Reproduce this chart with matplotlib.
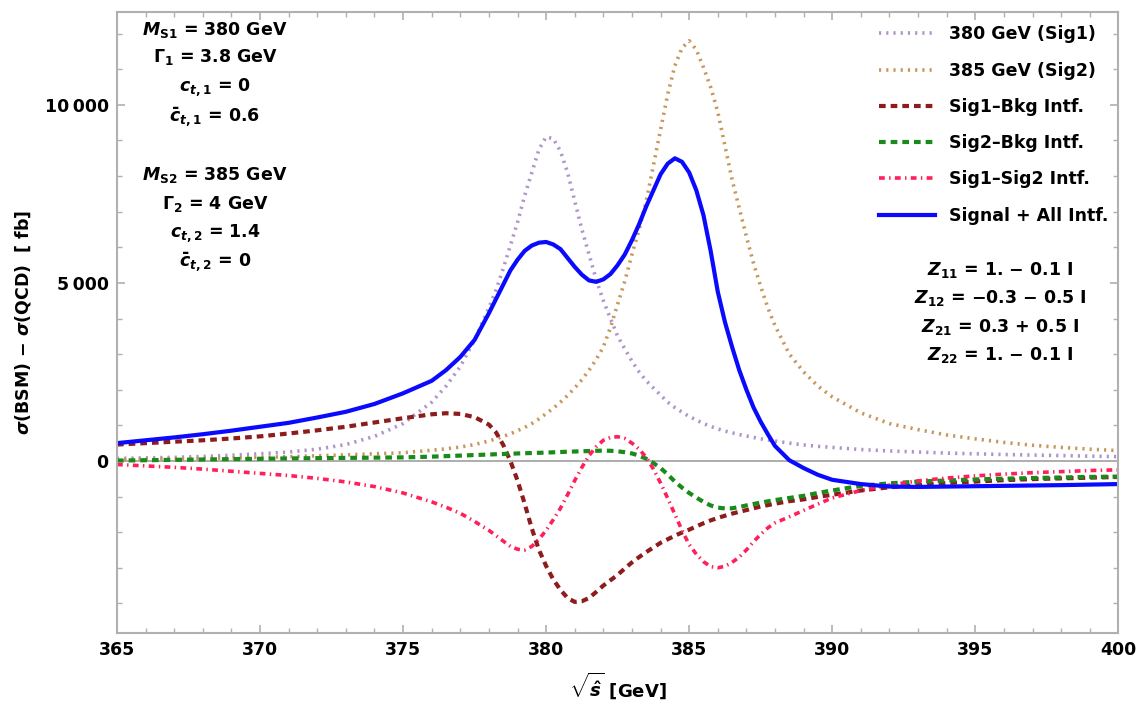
import matplotlib
matplotlib.use("Agg")
import matplotlib.pyplot as plt
import matplotlib.ticker as ticker

# ── Data ─────────────────────────────────────────────────────────────────────
sqrt_s = [365, 366, 367, 368, 369, 370, 371, 372, 373, 374, 375, 376, 376.5, 377, 377.5,
          378, 378.25, 378.5, 378.75, 379, 379.25, 379.5, 379.75, 380, 380.25,
          380.5, 380.75, 381, 381.25, 381.5, 381.75, 382, 382.25, 382.5, 382.75,
          383, 383.25, 383.5, 383.75, 384, 384.25, 384.5, 384.75, 385, 385.25,
          385.5, 385.75, 386, 386.25, 386.5, 386.75, 387, 387.25, 387.5, 387.75, 388,
          388.5, 389, 389.5, 390, 391, 392, 393, 394, 395, 396, 397, 398, 399, 400]

sig1 = [70, 85, 100, 125, 160, 200, 250, 330, 460, 690, 1050, 1650, 2100, 2650, 3400,
        4300, 4800, 5400, 6050, 6700, 7450, 8100, 8750, 9100, 9050,
        8700, 8100, 7300, 6500, 5800, 5100, 4500, 4000, 3500, 3150,
        2800, 2500, 2250, 2050, 1850, 1650, 1500, 1370, 1250, 1150,
        1050, 970, 900, 840, 790, 740, 700, 660, 620, 590, 560,
        500, 450, 410, 380, 320, 280, 250, 220, 200, 180, 165, 150, 135, 120]

sig2 = [40, 50, 60, 70, 85, 100, 120, 145, 170, 200, 230, 300, 340, 390, 460,
        560, 620, 690, 760, 850, 940, 1050, 1180, 1330, 1480,
        1650, 1840, 2050, 2280, 2550, 2850, 3200, 3750, 4400, 5050,
        5800, 6500, 7300, 8300, 9300, 10300, 11100, 11600, 11800, 11550,
        11050, 10500, 9800, 8850, 7900, 7100, 6300, 5550, 4900, 4300, 3800,
        3000, 2500, 2100, 1800, 1350, 1050, 880, 730, 620, 520, 440, 380, 330, 290]

sig1_bkg = [460, 500, 540, 580, 630, 690, 770, 860, 960, 1080, 1200, 1310, 1340, 1320, 1230,
            1020, 800, 450, 0, -550, -1200, -1900, -2500, -2950, -3330,
            -3620, -3850, -3960, -3940, -3850, -3680, -3500, -3350, -3200, -3020,
            -2850, -2700, -2560, -2430, -2300, -2200, -2100, -2010, -1930, -1840,
            -1750, -1670, -1600, -1540, -1480, -1430, -1380, -1330, -1280, -1240, -1200,
            -1130, -1080, -1010, -950, -830, -740, -680, -620, -580, -540, -510, -490, -470, -450]

sig2_bkg = [10, 20, 30, 40, 50, 60, 70, 78, 85, 92, 100, 120, 135, 150, 165,
            180, 188, 195, 203, 210, 216, 222, 228, 235, 242,
            250, 258, 265, 272, 278, 285, 290, 285, 270, 245,
            210, 150, 60, -60, -200, -380, -580, -750, -900, -1030,
            -1150, -1250, -1310, -1335, -1330, -1295, -1250, -1210, -1170, -1135, -1100,
            -1040, -980, -900, -830, -700, -630, -580, -550, -520, -500, -480, -465, -450, -440]

sig1_sig2 = [-100, -140, -180, -230, -290, -350, -410, -490, -590, -720, -900, -1150, -1300, -1470, -1700,
             -1950, -2100, -2250, -2400, -2480, -2500, -2400, -2200, -1950, -1650,
             -1330, -950, -550, -180, 150, 400, 580, 660, 680, 630,
             500, 330, 100, -230, -620, -1050, -1500, -1950, -2350, -2620,
             -2830, -2970, -3000, -2960, -2850, -2700, -2500, -2270, -2060, -1880, -1740,
             -1570, -1390, -1210, -1040, -830, -680, -560, -480, -420, -370, -330, -300, -270, -250]

total = [500, 580, 660, 750, 850, 960, 1070, 1220, 1380, 1600, 1900, 2250, 2550, 2920, 3400,
         4150, 4550, 4950, 5350, 5650, 5900, 6050, 6130, 6150, 6080,
         5950, 5700, 5450, 5230, 5070, 5030, 5100, 5250, 5500, 5800,
         6200, 6650, 7150, 7600, 8050, 8350, 8500, 8400, 8100, 7600,
         6900, 5900, 4750, 3900, 3200, 2550, 2000, 1500, 1100, 750, 420,
         20, -200, -390, -530, -650, -720, -730, -720, -710, -700, -690, -680, -665, -650]

LEFT_TEXT = [r"$M_\mathrm{S1}$ = 380 GeV", r"$\Gamma_\mathrm{1}$ = 3.8 GeV",
             r"$c_{t,\mathrm{1}}$ = 0", r"$\bar{c}_{t,\mathrm{1}}$ = 0.6",
             r"$M_\mathrm{S2}$ = 385 GeV", r"$\Gamma_\mathrm{2}$ = 4 GeV",
             r"$c_{t,\mathrm{2}}$ = 1.4", r"$\bar{c}_{t,\mathrm{2}}$ = 0"]
Z_TEXT = [r"$Z_\mathrm{11}$ = 1. − 0.1 I", r"$Z_\mathrm{12}$ = −0.3 − 0.5 I",
          r"$Z_\mathrm{21}$ = 0.3 + 0.5 I", r"$Z_\mathrm{22}$ = 1. − 0.1 I"]

# ── Style ─────────────────────────────────────────────────────────────────────
plt.rcParams.update({
    "font.family": "DejaVu Sans",
    "font.weight": "bold",
    "mathtext.fontset": "custom",
    "mathtext.rm": "DejaVu Sans:bold",
    "mathtext.bf": "DejaVu Sans:bold",
    "mathtext.it": "DejaVu Sans:italic:bold",
    "mathtext.default": "it",
})

EDGE = "#b0b0b0"

fig = plt.figure(figsize=(11.4, 7.04), dpi=100)
ax = fig.add_axes([0.1026, 0.101, 0.8784, 0.882])

ax.axhline(0, color="#a0a0a0", lw=1.2, zorder=1)

ax.plot(sqrt_s, sig1, ls=(0, (0.6, 1.4)), color="#ad95c9", lw=2.6, label="380 GeV (Sig1)")
ax.plot(sqrt_s, sig2, ls=(0, (0.6, 1.4)), color="#c8965a", lw=2.6, label="385 GeV (Sig2)")
ax.plot(sqrt_s, sig1_bkg, ls=(0, (1.6, 1.2)), color="#8e1c1c", lw=3.0, label="Sig1–Bkg Intf.")
ax.plot(sqrt_s, sig2_bkg, ls=(0, (1.6, 1.2)), color="#1a8a1a", lw=3.0, label="Sig2–Bkg Intf.")
ax.plot(sqrt_s, sig1_sig2, ls=(0, (1.6, 1.2, 0.4, 1.2)), color="#ff1f5a", lw=2.6,
        label="Sig1–Sig2 Intf.")
ax.plot(sqrt_s, total, ls="-", color="#0a0aff", lw=3.0, label="Signal + All Intf.")

ax.set_xlim(365, 400)
ax.set_ylim(-4830, 12610)

ax.xaxis.set_major_locator(ticker.MultipleLocator(5))
ax.xaxis.set_minor_locator(ticker.MultipleLocator(1))
ax.yaxis.set_major_locator(ticker.MultipleLocator(5000))
ax.yaxis.set_minor_locator(ticker.MultipleLocator(1000))
ax.yaxis.set_major_formatter(ticker.FuncFormatter(
    lambda v, p: f"{int(v):,}".replace(",", "\u2009")))

ax.tick_params(which="both", direction="in", top=True, right=True, color=EDGE,
               labelsize=12.5, pad=6)
ax.tick_params(which="major", length=6, width=1.2)
ax.tick_params(which="minor", length=3.5, width=1.0)
for lab in ax.get_xticklabels() + ax.get_yticklabels():
    lab.set_fontweight("bold")
for sp in ax.spines.values():
    sp.set_color(EDGE)
    sp.set_linewidth(1.5)

ax.set_xlabel(r"$\sqrt{\hat{s}}$ [GeV]", fontsize=13, fontweight="bold", labelpad=8)
ax.set_ylabel(r"$\sigma$(BSM) − $\sigma$(QCD)  [ fb]", fontsize=12.5,
              fontweight="bold", labelpad=8)

# Parameter annotations
left_y = [30, 57, 87, 117, 175, 204, 233, 262]
for txt, py in zip(LEFT_TEXT, left_y):
    fig.text(215 / 1140, 1 - py / 704, txt, ha="center", va="center",
             fontsize=12.5, fontweight="bold")
z_y = [270, 298, 327, 355]
for txt, py in zip(Z_TEXT, z_y):
    fig.text(1000 / 1140, 1 - py / 704, txt, ha="center", va="center",
             fontsize=12.5, fontweight="bold")

leg = ax.legend(loc="upper right", bbox_to_anchor=(1.0, 0.995), frameon=False,
                fontsize=12.5, handlelength=3.2, labelspacing=1.05,
                handletextpad=0.8, borderaxespad=0.2)
for t in leg.get_texts():
    t.set_fontweight("bold")

fig.savefig("out.png", dpi=100)
